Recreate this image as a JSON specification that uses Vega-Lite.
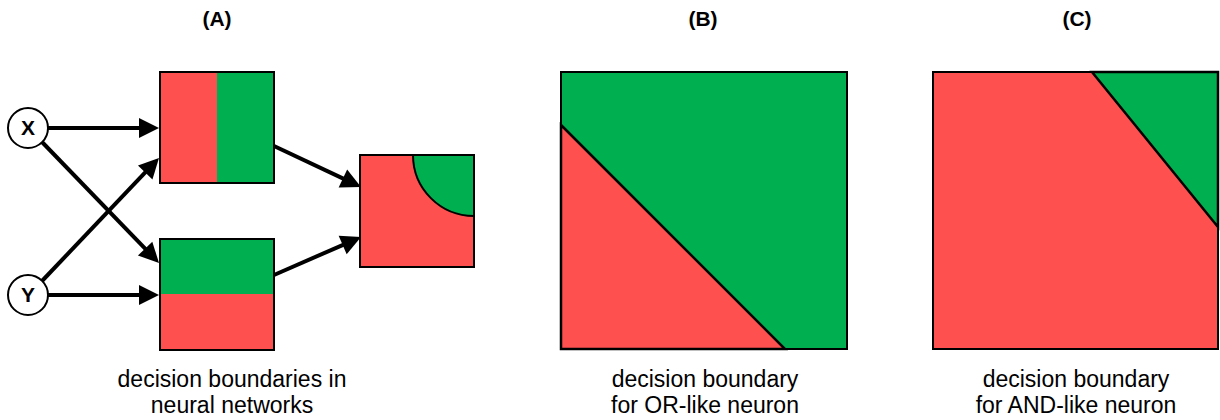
{
  "$schema": "https://vega.github.io/schema/vega-lite/v6.json",
  "width": 1220,
  "height": 420,
  "padding": 0,
  "autosize": {"type": "none"},
  "background": "white",
  "config": {"view": {"stroke": null}},
  "datasets": {
    "regions": [
      {"x": 160, "x2": 217, "y": 72, "y2": 183, "cls": "red"},
      {"x": 217, "x2": 274, "y": 72, "y2": 183, "cls": "green"},
      {"x": 160, "x2": 274, "y": 239, "y2": 294, "cls": "green"},
      {"x": 160, "x2": 274, "y": 294, "y2": 350, "cls": "red"},
      {"x": 360, "x2": 474, "y": 155, "y2": 267, "cls": "red"},
      {"x": 561, "x2": 847, "y": 72, "y2": 349, "cls": "green"},
      {"x": 933, "x2": 1218, "y": 72, "y2": 349, "cls": "red"}
    ],
    "triangles": [
      {"shape": "B", "cls": "red", "x": 561, "y": 125, "y2": 349},
      {"shape": "B", "cls": "red", "x": 785, "y": 349, "y2": 349},
      {"shape": "C", "cls": "green", "x": 1092, "y": 72, "y2": 72},
      {"shape": "C", "cls": "green", "x": 1218, "y": 72, "y2": 227}
    ],
    "arcs": [
      {"x": 474, "y": 155, "cls": "green"}
    ],
    "boxes": [
      {"x": 160, "x2": 274, "y": 72, "y2": 183},
      {"x": 160, "x2": 274, "y": 239, "y2": 350},
      {"x": 360, "x2": 474, "y": 155, "y2": 267},
      {"x": 561, "x2": 847, "y": 72, "y2": 349},
      {"x": 933, "x2": 1218, "y": 72, "y2": 349}
    ],
    "arrows": [
      {"x": 48, "y": 128, "x2": 147, "y2": 128, "tx": 159, "ty": 128, "ang": 0},
      {"x": 42, "y": 142, "x2": 150.7, "y2": 254.4, "tx": 159, "ty": 263, "ang": 46},
      {"x": 42, "y": 281, "x2": 150.7, "y2": 166.7, "tx": 159, "ty": 158, "ang": -46.4},
      {"x": 48, "y": 295, "x2": 147, "y2": 295, "tx": 159, "ty": 295, "ang": 0},
      {"x": 274, "y": 146, "x2": 350.2, "y2": 181.9, "tx": 361, "ty": 187, "ang": 25.2},
      {"x": 274, "y": 275, "x2": 350, "y2": 241.8, "tx": 361, "ty": 237, "ang": -23.6}
    ],
    "nodes": [
      {"x": 28, "y": 128, "label": "X"},
      {"x": 28, "y": 295, "label": "Y"}
    ],
    "titles": [
      {"x": 217, "y": 26, "label": "(A)"},
      {"x": 703, "y": 26, "label": "(B)"},
      {"x": 1077, "y": 26, "label": "(C)"}
    ],
    "captions": [
      {"x": 232, "y": 387, "label": "decision boundaries in"},
      {"x": 232, "y": 413, "label": "neural networks"},
      {"x": 705, "y": 387, "label": "decision boundary"},
      {"x": 705, "y": 413, "label": "for OR-like neuron"},
      {"x": 1076, "y": 387, "label": "decision boundary"},
      {"x": 1076, "y": 413, "label": "for AND-like neuron"}
    ]
  },
  "encoding": {
    "x": {"field": "x", "type": "quantitative", "axis": null, "scale": {"domain": [0, 1220], "nice": false, "zero": false}},
    "y": {"field": "y", "type": "quantitative", "axis": null, "scale": {"domain": [0, 420], "nice": false, "zero": false, "reverse": true}}
  },
  "layer": [
    {
      "data": {"name": "regions"},
      "mark": {"type": "rect", "strokeWidth": 0},
      "encoding": {
        "x2": {"field": "x2"},
        "y2": {"field": "y2"},
        "color": {"field": "cls", "type": "nominal", "legend": null, "scale": {"domain": ["red", "green"], "range": ["#FF5050", "#00B050"]}}
      }
    },
    {
      "data": {"name": "triangles"},
      "mark": {"type": "area", "stroke": "black", "strokeWidth": 2.5, "opacity": 1},
      "encoding": {
        "y2": {"field": "y2"},
        "detail": {"field": "shape"},
        "color": {"field": "cls", "type": "nominal", "legend": null, "scale": {"domain": ["red", "green"], "range": ["#FF5050", "#00B050"]}}
      }
    },
    {
      "data": {"name": "arcs"},
      "mark": {"type": "arc", "radius": 61, "theta": 3.14159265, "theta2": 4.71238898, "stroke": "black", "strokeWidth": 2},
      "encoding": {
        "color": {"field": "cls", "type": "nominal", "legend": null, "scale": {"domain": ["red", "green"], "range": ["#FF5050", "#00B050"]}}
      }
    },
    {
      "data": {"name": "boxes"},
      "mark": {"type": "rect", "fill": null, "fillOpacity": 0, "stroke": "black", "strokeWidth": 2},
      "encoding": {
        "x2": {"field": "x2"},
        "y2": {"field": "y2"}
      }
    },
    {
      "data": {"name": "arrows"},
      "mark": {"type": "rule", "color": "black", "strokeWidth": 4},
      "encoding": {
        "x2": {"field": "x2"},
        "y2": {"field": "y2"}
      }
    },
    {
      "data": {"name": "arrows"},
      "mark": {"type": "point", "shape": "M0,0L-2,-1L-2,1Z", "size": 400, "filled": true, "color": "black", "opacity": 1},
      "encoding": {
        "x": {"field": "tx", "type": "quantitative"},
        "y": {"field": "ty", "type": "quantitative"},
        "angle": {"field": "ang", "type": "quantitative", "scale": null}
      }
    },
    {
      "data": {"name": "nodes"},
      "mark": {"type": "point", "shape": "circle", "size": 1600, "filled": true, "fill": "white", "stroke": "black", "strokeWidth": 2, "opacity": 1}
    },
    {
      "data": {"name": "nodes"},
      "mark": {"type": "text", "font": "Liberation Sans", "fontSize": 21, "fontWeight": "bold", "baseline": "middle", "align": "center", "dy": 1, "color": "black"},
      "encoding": {"text": {"field": "label"}}
    },
    {
      "data": {"name": "titles"},
      "mark": {"type": "text", "font": "Liberation Sans", "fontSize": 21, "fontWeight": "bold", "baseline": "alphabetic", "align": "center", "color": "black"},
      "encoding": {"text": {"field": "label"}}
    },
    {
      "data": {"name": "captions"},
      "mark": {"type": "text", "font": "Liberation Sans", "fontSize": 23, "baseline": "alphabetic", "align": "center", "color": "black"},
      "encoding": {"text": {"field": "label"}}
    }
  ]
}
